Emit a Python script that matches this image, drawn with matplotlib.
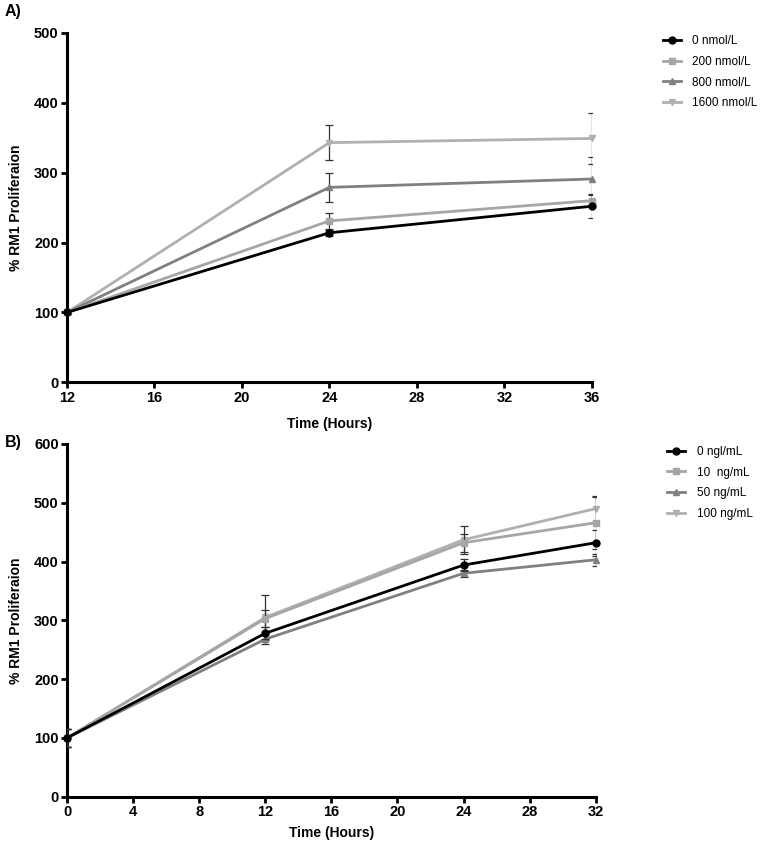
import matplotlib
matplotlib.use("Agg")
from matplotlib import pyplot as plt

plt.rcParams['font.family'] = ['Liberation Sans', 'DejaVu Sans']

# panel A: nmol/L treatments
hours_a = [12, 24, 36]
labels_a = ["0 nmol/L", "200 nmol/L", "800 nmol/L", "1600 nmol/L"]
mean_a = [[100, 214, 252],
          [100, 231, 260],
          [100, 279, 291],
          [100, 343, 349]]
err_a = [[2, 4, 17],
         [2, 12, 8],
         [2, 21, 32],
         [2, 25, 37]]

# panel B: ng/mL treatments
hours_b = [0, 12, 24, 32]
labels_b = ["0 ngl/mL", "10  ng/mL", "50 ng/mL", "100 ng/mL"]
mean_b = [[100, 278, 394, 432],
          [100, 303, 432, 466],
          [100, 268, 380, 403],
          [100, 305, 437, 490]]
err_b = [[16, 10, 10, 22],
         [16, 15, 15, 44],
         [16, 8, 6, 10],
         [16, 38, 24, 22]]

colors = ["#000000", "#a6a6a6", "#808080", "#b0b0b0"]
markers = ["o", "s", "^", "v"]


def draw_panel(ax, hours, means, errs, labels, xticks, yticks, letter, letter_y, xpad):
    handles = []
    for i in range(len(labels)):
        z = 6 if i == 0 else 5 - i
        ax.errorbar(hours, means[i], yerr=errs[i], fmt="none",
                    ecolor="#333333", elinewidth=0.9, capsize=3, capthick=0.9,
                    zorder=z)
        line, = ax.plot(hours, means[i], color=colors[i], marker=markers[i],
                        markersize=5, linewidth=2, label=labels[i], zorder=z)
        line.set_clip_on(False)
        handles.append(line)
    ax.set_xlim(hours[0], hours[-1])
    ax.set_ylim(yticks[0], yticks[-1])
    ax.set_xticks(xticks)
    ax.set_yticks(yticks)
    for s in ["top", "right"]:
        ax.spines[s].set_visible(False)
    for s in ["left", "bottom"]:
        ax.spines[s].set_linewidth(2.2)
    ax.tick_params(width=2, length=4, labelsize=10.5, pad=2)
    for t in ax.get_xticklabels() + ax.get_yticklabels():
        t.set_fontweight("bold")
    ax.set_xlabel("Time (Hours)", fontsize=10, fontweight="bold", labelpad=xpad)
    ax.set_ylabel("% RM1 Proliferaion", fontsize=10, fontweight="bold", labelpad=8)
    ax.text(-0.118, letter_y, letter, transform=ax.transAxes, fontsize=11.5,
            fontweight="bold", va="center")
    ax.legend(handles=handles, loc="upper left", bbox_to_anchor=(1.115, 1.025),
              frameon=False, fontsize=8.5, handlelength=1.5, labelspacing=0.75,
              handletextpad=1.0)


fig = plt.figure(figsize=(7.64, 8.44), dpi=100)
ax_a = fig.add_axes([0.0877, 0.547, 0.687, 0.414])
ax_b = fig.add_axes([0.0877, 0.056, 0.692, 0.418])

draw_panel(ax_a, hours_a, mean_a, err_a, labels_a, [12, 16, 20, 24, 28, 32, 36],
           [0, 100, 200, 300, 400, 500], "A)", 1.06, 9)
draw_panel(ax_b, hours_b, mean_b, err_b, labels_b, [0, 4, 8, 12, 16, 20, 24, 28, 32],
           [0, 100, 200, 300, 400, 500, 600], "B)", 1.005, 5)

fig.savefig("out.png", dpi=100)
